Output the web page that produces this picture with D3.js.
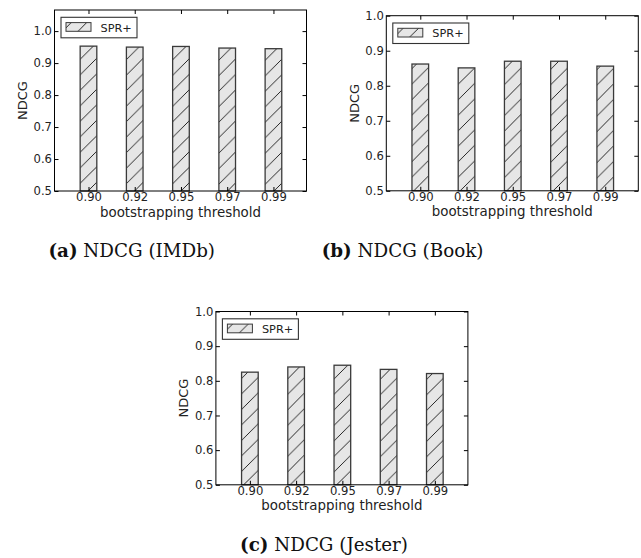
<!DOCTYPE html>
<html>
<head>
<meta charset="utf-8">
<script src="https://cdn.jsdelivr.net/npm/d3@7/dist/d3.min.js"></script>
<style>
  html, body { margin: 0; padding: 0; background: #fff; }
  svg { display: block; }
  .tick text { font-family: "DejaVu Sans", sans-serif; font-size: 11.6px; fill: #222; }
  .tick line { stroke: #000; stroke-width: 1; }
</style>
</head>
<body>
<svg id="fig" width="641" height="558"></svg>
<script>
// Bootstrapping thresholds (x categories)
const thresholds = ["0.90", "0.92", "0.95", "0.97", "0.99"];

// NDCG of SPR+ for each dataset
const ndcgIMDb   = [0.953, 0.950, 0.952, 0.947, 0.945];
const ndcgBook   = [0.862, 0.851, 0.870, 0.870, 0.856];
const ndcgJester = [0.825, 0.840, 0.845, 0.833, 0.821];

// Y axis ticks and labels
const yTicks = [0.5, 0.6, 0.7, 0.8, 0.9, 1.0];
const seriesName = "SPR+";
const xTitle = "bootstrapping threshold";
const yTitle = "NDCG";

// Sub-figure captions
const captionTags  = ["(a)", "(b)", "(c)"];
const captionTexts = ["NDCG (IMDb)", "NDCG (Book)", "NDCG (Jester)"];

const svg = d3.select("#fig");

// Diagonal "/" hatch used for the bars and the legend swatch
const defs = svg.append("defs");
const hs = 15.5;
const pat = defs.append("pattern")
  .attr("id", "hatch")
  .attr("patternUnits", "userSpaceOnUse")
  .attr("width", hs).attr("height", hs);
pat.append("rect").attr("width", hs).attr("height", hs).attr("fill", "#e6e6e6");
pat.append("path")
  .attr("d", `M0,${hs} L${hs},0 M${-hs/2},${hs/2} L${hs/2},${-hs/2} M${hs/2},${hs*1.5} L${hs*1.5},${hs/2}`)
  .attr("stroke", "#111").attr("stroke-width", 0.9).attr("fill", "none");

const panels = [
  { values: ndcgIMDb,   left: 54.5,  top: 10,    bottom: 191,   yMax: 1.066,
    capX: 131.7, capY: 257 },
  { values: ndcgBook,   left: 386.3, top: 15.7,  bottom: 190.8, yMax: 1.0,
    capX: 402.5, capY: 257 },
  { values: ndcgJester, left: 215.9, top: 311.5, bottom: 484.8, yMax: 1.0,
    capX: 324,   capY: 550.5 }
];
const plotW = 252;
const barW = 0.36;

panels.forEach((p, k) => {
  const g = svg.append("g");
  const right = p.left + plotW;

  const x = d3.scaleLinear().domain([-0.735, thresholds.length - 1 + 0.715]).range([p.left, right]);
  const y = d3.scaleLinear().domain([0.5, p.yMax]).range([p.bottom, p.top]);

  // bars
  g.selectAll("rect.bar").data(p.values).enter().append("rect")
    .attr("class", "bar")
    .attr("x", (d, i) => x(i - barW / 2))
    .attr("width", x(barW) - x(0))
    .attr("y", d => y(d))
    .attr("height", d => y(0.5) - y(d))
    .attr("fill", "url(#hatch)")
    .attr("stroke", "#3a3a3a")
    .attr("stroke-width", 1.3);

  // axes with inward ticks on all four sides
  const idx = thresholds.map((t, i) => i);
  const fmtX = i => thresholds[i];

  const ax = g.append("g").attr("transform", `translate(0,${p.bottom})`)
    .call(d3.axisBottom(x).tickValues(idx).tickFormat(fmtX).tickSizeInner(-4).tickSizeOuter(0).tickPadding(2));
  const axT = g.append("g").attr("transform", `translate(0,${p.top})`)
    .call(d3.axisTop(x).tickValues(idx).tickFormat("").tickSizeInner(-4).tickSizeOuter(0));
  const ay = g.append("g").attr("transform", `translate(${p.left},0)`)
    .call(d3.axisLeft(y).tickValues(yTicks).tickFormat(d3.format(".1f")).tickSizeInner(-4).tickSizeOuter(0).tickPadding(2.5));
  const ayR = g.append("g").attr("transform", `translate(${right},0)`)
    .call(d3.axisRight(y).tickValues(yTicks).tickFormat("").tickSizeInner(-4).tickSizeOuter(0));
  [ax, axT, ay, ayR].forEach(a => { a.select(".domain").remove(); a.attr("font-size", null).attr("font-family", null); });

  // frame
  g.append("rect")
    .attr("x", p.left).attr("y", p.top)
    .attr("width", plotW).attr("height", p.bottom - p.top)
    .attr("fill", "none").attr("stroke", "#000").attr("stroke-width", 1);

  // axis titles
  g.append("text")
    .attr("x", (p.left + right) / 2).attr("y", p.bottom + 25.5)
    .attr("text-anchor", "middle")
    .attr("font-family", "DejaVu Sans, sans-serif").attr("font-size", 13.4).attr("fill", "#222")
    .text(xTitle);
  g.append("text")
    .attr("transform", `translate(${p.left - 27.5},${(p.top + p.bottom) / 2}) rotate(-90)`)
    .attr("text-anchor", "middle")
    .attr("font-family", "DejaVu Sans, sans-serif").attr("font-size", 13).attr("fill", "#222")
    .text(yTitle);

  // legend
  const lg = g.append("g").attr("transform", `translate(${p.left + 6.5},${p.top + 7.3})`);
  lg.append("rect").attr("width", 76).attr("height", 20.5)
    .attr("fill", "#fff").attr("stroke", "#333").attr("stroke-width", 1.1);
  lg.append("rect").attr("x", 5).attr("y", 5.3).attr("width", 25).attr("height", 8.7)
    .attr("fill", "url(#hatch)").attr("stroke", "#3a3a3a").attr("stroke-width", 1);
  lg.append("text").attr("x", 39.5).attr("y", 14.4)
    .attr("font-family", "DejaVu Sans, sans-serif").attr("font-size", 11.3).attr("fill", "#222")
    .text(seriesName);

  // caption
  const cap = svg.append("text")
    .attr("x", p.capX).attr("y", p.capY)
    .attr("text-anchor", "middle")
    .attr("font-family", "DejaVu Serif, serif").attr("font-size", 18.3).attr("fill", "#111");
  cap.append("tspan").attr("font-weight", "bold").text(captionTags[k]);
  cap.append("tspan").text(" " + captionTexts[k]);
});
</script>
</body>
</html>
